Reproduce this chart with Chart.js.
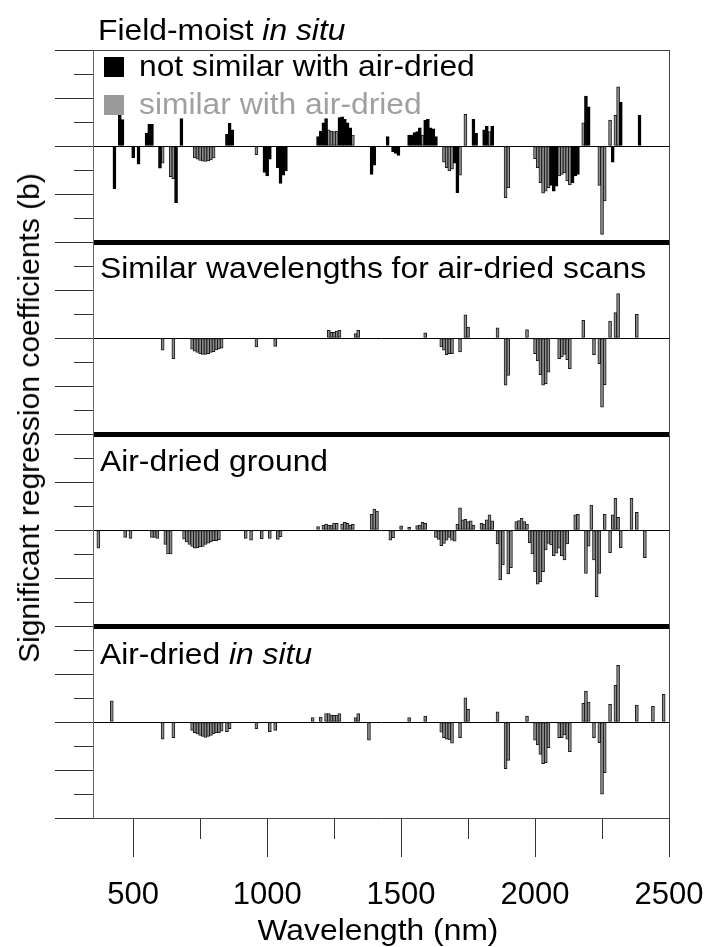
<!DOCTYPE html>
<html>
<head>
<meta charset="utf-8">
<script src="https://cdn.jsdelivr.net/npm/chart.js@4.4.1/dist/chart.umd.min.js"></script>
<style>
html,body{margin:0;padding:0;background:#fff;}
#wrap{position:relative;width:710px;height:947px;overflow:hidden;font-family:'Liberation Sans',Arial,Helvetica,sans-serif;}
#c{position:absolute;left:0;top:0;}
.t{position:absolute;font-size:30px;line-height:30px;white-space:nowrap;color:#000;transform:scaleX(1.06);transform-origin:0 0;}
.sq{position:absolute;width:20px;height:20px;}
#ylab{position:absolute;left:29px;top:418px;font-size:30px;line-height:30px;white-space:nowrap;transform:translate(-50%,-50%) rotate(-90deg);}
#xlab{position:absolute;left:378px;top:915px;font-size:30px;line-height:30px;white-space:nowrap;transform:translateX(-50%) scaleX(1.06);transform-origin:50% 0;}
</style>
</head>
<body>
<div id="wrap">
<canvas id="c" width="710" height="947"></canvas>
<div class="t" style="left:98px;top:15px">Field-moist <i>in situ</i></div>
<div class="sq" style="left:104px;top:57px;background:#000"></div>
<div class="t" style="left:139px;top:51px">not similar with air-dried</div>
<div class="sq" style="left:104px;top:95px;background:#9a9a9a"></div>
<div class="t" style="left:139px;top:89px;color:#a0a0a0">similar with air-dried</div>
<div class="t" style="left:100px;top:253px">Similar wavelengths for air-dried scans</div>
<div class="t" style="left:100px;top:446px">Air-dried ground</div>
<div class="t" style="left:100px;top:639px">Air-dried <i>in situ</i></div>
<div id="ylab">Significant regression coefficients (b)</div>
<div id="xlab">Wavelength (nm)</div>
</div>
<script>
// ---- data (wavelength in nm, regression coefficient in axis-tick units) ----
const xTickValues = [500, 750, 1000, 1250, 1500, 1750, 2000, 2250, 2500];

// Panel 1: Field-moist in situ, not similar with air-dried (black)
const fieldNotSimilarNm = [430,450,460,500,520,550,560,570,600,660,680,850,860,870,990,1000,1010,1040,1050,1060,1070,
  1190,1200,1210,1220,1270,1280,1290,1300,1310,1390,1400,1450,1470,1480,1490,1530,1540,1550,1560,1570,1590,1600,1610,1620,1630,
  1700,1710,1770,1780,1810,1820,1840,2060,2070,2080,2140,2150,2160,2190,2200,2290,2320,2390];
const fieldNotSimilarB = [-1.78,1.28,1.1,-0.5,-0.76,0.53,0.9,0.9,-0.92,-2.36,1.14,0.49,0.94,0.67,-1.1,-1.25,-0.55,-0.9,-1.56,-1.22,-1.04,
  0.39,0.62,0.97,1.14,1.18,1.22,1.11,0.97,0.76,-1.18,-0.8,0.39,-0.25,-0.31,-0.39,0.46,0.46,0.56,0.6,0.76,1.07,1.11,0.76,0.72,0.39,
  -0.72,-1.94,1.11,0.53,0.67,0.83,0.83,-1.64,-1.88,-1.67,-1.53,-1.25,-1.18,2.08,1.63,-0.67,1.83,1.28];

// Panel 1: Field-moist in situ, similar with air-dried (gray)
const fieldSimilarNm = [610,640,650,730,740,750,760,770,780,790,800,960,1230,1240,1250,1260,1320,1580,1660,1670,1680,1690,1720,1740,1830,
  1890,1900,2000,2010,2020,2030,2040,2050,2090,2100,2110,2120,2130,2180,2240,2250,2260,2280,2300,2310];
const fieldSimilarB = [-0.72,-1.28,-1.36,-0.5,-0.55,-0.6,-0.63,-0.64,-0.62,-0.58,-0.5,-0.36,0.67,0.62,0.6,0.62,0.46,0.46,-0.67,-0.9,-1.04,-0.97,-1.22,1.32,0.6,
  -2.15,-1.74,-0.53,-0.9,-1.53,-1.97,-1.88,-1.74,-1.25,-1.18,-1.11,-1.46,-1.62,0.97,-1.64,-3.68,-2.29,1.08,1.28,2.47];

// Panel 2: Similar wavelengths for air-dried scans
const similarScansNm = [610,650,720,730,740,750,760,770,780,790,800,810,820,830,960,1030,1230,1240,1250,1260,1270,1330,1340,1590,
  1650,1660,1670,1680,1690,1720,1740,1750,1860,1890,1900,1970,2000,2010,2020,2030,2040,2050,2090,2100,2110,2120,2130,
  2180,2220,2240,2250,2260,2280,2300,2310,2380];
const similarScansB = [-0.51,-0.86,-0.47,-0.55,-0.6,-0.65,-0.68,-0.68,-0.65,-0.6,-0.57,-0.5,-0.46,-0.42,-0.37,-0.35,0.32,0.24,0.24,0.29,0.32,0.18,0.32,0.22,
  -0.37,-0.51,-0.69,-0.65,-0.65,-0.58,0.97,0.46,0.42,-1.97,-1.56,0.35,-0.65,-0.96,-1.53,-1.97,-1.9,-1.42,-0.86,-0.79,-0.68,-0.9,-1.28,
  0.74,-0.69,-1.07,-2.88,-1.94,0.71,1.06,1.85,0.99];

// Panel 3: Air-dried ground
const groundNm = [370,470,490,570,580,590,620,630,640,690,700,710,720,730,740,750,760,770,780,790,800,810,820,920,940,980,1010,1040,1050,
  1190,1210,1220,1230,1240,1250,1260,1280,1290,1300,1310,1320,1390,1400,1410,1460,1470,1500,1530,1560,1570,1580,1590,
  1630,1640,1650,1660,1670,1680,1690,1700,1710,1720,1730,1740,1750,1760,1770,1800,1810,1820,1830,1840,
  1860,1870,1880,1900,1910,1930,1940,1950,1960,1970,1980,1990,2000,2010,2020,2030,2040,2050,2060,2070,2080,2090,2100,2110,2120,
  2150,2160,2190,2200,2210,2220,2230,2240,2260,2280,2290,2300,2310,2320,2360,2380,2410];
const groundB = [-0.76,-0.31,-0.35,-0.31,-0.31,-0.35,-0.6,-1.0,-1.0,-0.38,-0.5,-0.6,-0.68,-0.76,-0.74,-0.7,-0.68,-0.6,-0.55,-0.5,-0.44,-0.44,-0.4,-0.35,-0.42,-0.36,-0.35,-0.39,-0.28,
  0.14,0.21,0.25,0.21,0.21,0.28,0.28,0.25,0.32,0.28,0.19,0.24,0.65,0.87,0.79,-0.42,-0.32,0.17,0.11,0.18,0.21,0.32,0.28,
  -0.31,-0.39,-0.65,-0.56,-0.42,-0.31,-0.42,-0.47,0.24,0.92,0.42,0.44,0.35,0.38,0.19,0.28,0.25,0.42,0.63,0.38,
  -0.58,-2.08,-1.46,-1.83,-1.57,0.35,0.39,0.49,0.35,0.25,-0.53,-1.0,-1.74,-2.26,-2.15,-1.74,-0.83,-0.56,-0.62,-1.07,-0.97,-0.76,-1.08,-1.25,-0.58,
  0.63,0.65,-1.81,-0.67,1.04,-1.25,-2.78,-1.81,0.65,-0.94,0.63,1.32,0.53,-0.74,1.32,0.74,-1.15];

// Panel 4: Air-dried in situ
const inSituNm = [420,610,650,720,730,740,750,760,770,780,790,800,810,820,830,850,860,960,1010,1030,1170,1200,1220,1230,1240,1250,1260,1270,
  1330,1340,1380,1530,1590,1650,1660,1670,1680,1690,1720,1740,1750,1860,1890,1900,1970,2000,2010,2020,2030,2040,2050,
  2090,2100,2110,2120,2130,2180,2190,2200,2220,2240,2250,2260,2280,2300,2310,2380,2440,2480];
const inSituB = [0.88,-0.72,-0.65,-0.35,-0.44,-0.5,-0.56,-0.6,-0.64,-0.6,-0.56,-0.5,-0.44,-0.44,-0.38,-0.4,-0.28,-0.28,-0.4,-0.35,0.18,0.21,0.35,0.35,0.29,0.28,0.29,0.35,
  0.18,0.35,-0.76,0.18,0.25,-0.42,-0.65,-0.72,-0.75,-0.88,-0.65,1.01,0.53,0.42,-1.94,-1.6,0.25,-0.76,-0.96,-1.35,-1.74,-1.69,-1.07,
  -0.65,-0.65,-0.54,-0.72,-1.24,0.78,1.29,0.83,-0.65,-0.86,-3.01,-2.11,0.74,1.53,2.36,0.71,0.65,1.15];

// ---- chart ----
Chart.defaults.font.family = "'Liberation Sans', Arial, Helvetica, sans-serif";
const BAR_GRAY = '#8c8c8c';

function pts(nm, b) { return nm.map((x, i) => ({x: x, y: b[i]})); }
function barSet(label, nm, b, axis, fill, stroke) {
  return {label: label, data: pts(nm, b), yAxisID: axis, backgroundColor: fill, borderColor: stroke,
    borderWidth: 1, borderSkipped: false, barThickness: 3, grouped: false};
}
function isOdd(c) { return c.tick && Math.abs(Math.round(c.tick.value)) % 2 === 1; }
function panelAxis(i) {
  return {
    type: 'linear', position: 'left', stack: 'panels', stackWeight: 1, weight: 10 - i,
    min: -4, max: 4, offset: false,
    ticks: {display: false, stepSize: 1},
    border: {display: true, color: '#666', width: 1},
    grid: {
      offset: false,
      tickLength: 38, tickWidth: 1, tickColor: '#333',
      lineWidth: c => (c.tick && c.tick.value === 4 && i > 0) ? 5 : 1,
      color: c => {
        if (!c.tick) return 'rgba(0,0,0,0)';
        const v = c.tick.value;
        if (v === 0) return '#000';
        if (v === 4) return i > 0 ? '#000' : '#444';
        return 'rgba(0,0,0,0)';
      },
      tickBorderDash: c => isOdd(c) ? [19, 19] : [],
      tickBorderDashOffset: c => isOdd(c) ? 19 : 0
    }
  };
}

new Chart(document.getElementById('c').getContext('2d'), {
  type: 'bar',
  data: {
    datasets: [
      barSet('not similar with air-dried', fieldNotSimilarNm, fieldNotSimilarB, 'y1', '#000', '#000'),
      barSet('similar with air-dried', fieldSimilarNm, fieldSimilarB, 'y1', BAR_GRAY, '#1a1a1a'),
      barSet('Similar wavelengths for air-dried scans', similarScansNm, similarScansB, 'y2', BAR_GRAY, '#1a1a1a'),
      barSet('Air-dried ground', groundNm, groundB, 'y3', BAR_GRAY, '#1a1a1a'),
      barSet('Air-dried in situ', inSituNm, inSituB, 'y4', BAR_GRAY, '#1a1a1a')
    ]
  },
  options: {
    responsive: false, animation: false, devicePixelRatio: 1, events: [],
    layout: {padding: {left: 55, right: 41, top: 50, bottom: 14}},
    plugins: {legend: {display: false}, tooltip: {enabled: false}},
    scales: {
      x: {
        type: 'linear', position: 'bottom', min: 350, max: 2500, offset: false,
        afterBuildTicks: s => { s.ticks = xTickValues.map(v => ({value: v})); },
        ticks: {autoSkip: false, maxRotation: 0, padding: 0, color: '#000',
          font: {size: 31, lineHeight: '76px'},
          callback: v => (v % 500 === 0 ? String(v) : '')},
        grid: {offset: false, drawOnChartArea: false, tickLength: 39, tickWidth: 1, tickColor: '#333',
          tickBorderDash: c => (c.tick && c.tick.value % 500 !== 0) ? [20, 60] : []},
        border: {display: true, color: '#444', width: 1}
      },
      y4: panelAxis(3),
      y3: panelAxis(2),
      y2: panelAxis(1),
      y1: panelAxis(0),
      yR: {
        type: 'linear', position: 'right', min: 0, max: 1,
        ticks: {display: false},
        grid: {drawOnChartArea: false, drawTicks: false},
        border: {display: true, color: '#444', width: 1}
      }
    }
  }
});
</script>
</body>
</html>
